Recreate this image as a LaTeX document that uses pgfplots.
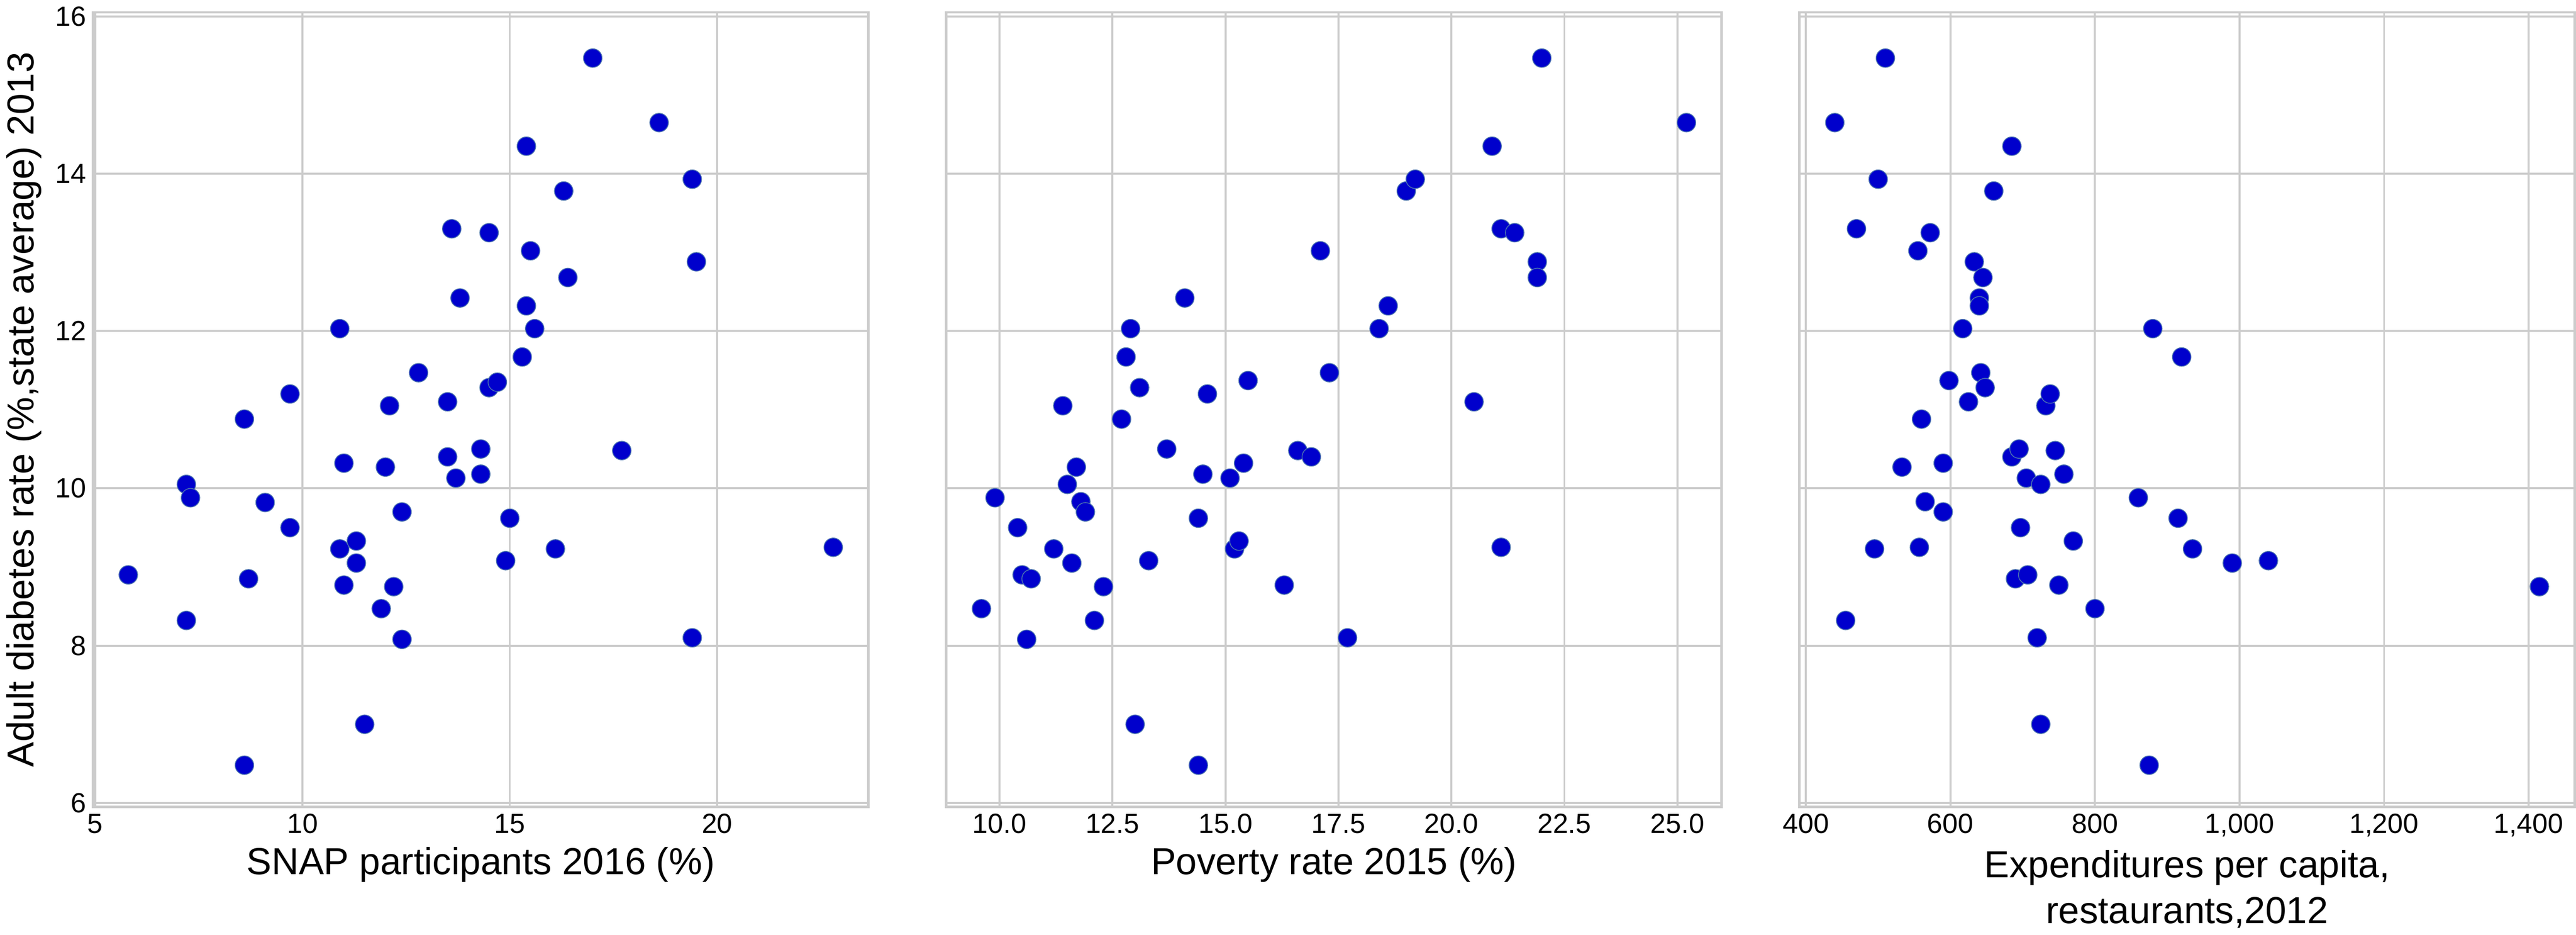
\documentclass[border=0pt]{standalone}
\usepackage{pgfplots}
\pgfplotsset{compat=1.18}
\usepgfplotslibrary{groupplots}
\usepackage{fontspec}
\setmainfont{Liberation Sans}
\definecolor{sb}{HTML}{4C72B0}
\definecolor{gr}{HTML}{CCCCCC}
\begin{document}
\begin{tikzpicture}
\begin{groupplot}[group style={group size=3 by 1, horizontal sep=1.38cm, y descriptions at=edge left},
 width=13.77cm, height=14.1cm, scale only axis,
 ymin=5.95, ymax=16.05, ytick={6,8,...,16},
 grid=major, grid style={gr, line width=1pt}, axis line style={gr, line width=1.2pt},
 major tick length=0pt,
 tick label style={font=\fontsize{14}{16}\selectfont},
 label style={font=\fontsize{19}{23}\selectfont},
 /pgf/number format/assume math mode=true,
 every axis plot/.append style={only marks, mark=*, mark size=4.7pt, mark options={draw=sb, fill=sb}}]
\nextgroupplot[xmin=4.95, xmax=23.65, xtick={5,10,15,20}, xlabel={SNAP participants 2016 (\%)}, ylabel={Adult diabetes rate (\%,state average) 2013}]
\addplot coordinates {(5.8,8.9)(7.2,10.05)(7.3,9.88)(7.2,8.32)(8.6,10.88)(8.7,8.85)(8.6,6.48)(9.1,9.82)(9.7,11.2)(9.7,9.5)(10.9,12.03)(11.0,10.32)(10.9,9.23)(11.0,8.77)(11.3,9.33)(11.3,9.05)(11.5,7.0)(11.9,8.47)(12.1,11.05)(12.0,10.27)(12.2,8.75)(12.4,9.7)(12.4,8.08)(12.8,11.47)(13.5,11.1)(13.5,10.4)(13.6,13.3)(13.8,12.42)(13.7,10.13)(14.3,10.5)(14.3,10.18)(14.5,13.25)(14.5,11.28)(14.7,11.35)(15.0,9.62)(14.9,9.08)(15.4,14.35)(15.4,12.32)(15.5,13.02)(15.3,11.67)(15.6,12.03)(16.1,9.23)(16.3,13.78)(16.4,12.68)(17.0,15.47)(17.7,10.48)(18.6,14.65)(19.4,13.93)(19.5,12.88)(19.4,8.1)(22.8,9.25)};
\nextgroupplot[xmin=8.82, xmax=25.98, xtick={10,12.5,...,25}, xticklabel style={/pgf/number format/.cd,fixed,fixed zerofill,precision=1}, xlabel={Poverty rate 2015 (\%)}]
\addplot coordinates {(9.6,8.47)(9.9,9.88)(10.4,9.5)(10.5,8.9)(10.7,8.85)(10.6,8.08)(11.2,9.23)(11.4,11.05)(11.5,10.05)(11.6,9.05)(11.7,10.27)(11.8,9.83)(11.9,9.7)(12.1,8.32)(12.3,8.75)(12.7,10.88)(12.8,11.67)(12.9,12.03)(13.1,11.28)(13.3,9.08)(13.0,7.0)(13.7,10.5)(14.1,12.42)(14.4,9.62)(14.5,10.18)(14.6,11.2)(14.4,6.48)(15.1,10.13)(15.2,9.23)(15.3,9.33)(15.4,10.32)(15.5,11.37)(16.3,8.77)(16.6,10.48)(16.9,10.4)(17.1,13.02)(17.3,11.47)(17.7,8.1)(18.4,12.03)(18.6,12.32)(19.0,13.78)(19.2,13.93)(20.5,11.1)(20.9,14.35)(21.1,13.3)(21.1,9.25)(21.4,13.25)(21.9,12.88)(21.9,12.68)(22.0,15.47)(25.2,14.65)};
\nextgroupplot[xmin=391, xmax=1464, xtick={400,600,...,1400}, xlabel={Expenditures per capita,\\restaurants,2012}, xlabel style={align=center}]
\addplot coordinates {(440,14.65)(455,8.32)(470,13.3)(495,9.23)(500,13.93)(510,15.47)(533,10.27)(555,13.02)(557,9.25)(560,10.88)(565,9.83)(572,13.25)(590,9.7)(590,10.32)(598,11.37)(617,12.03)(625,11.1)(633,12.88)(640,12.42)(640,12.32)(645,12.68)(642,11.47)(648,11.28)(660,13.78)(685,14.35)(685,10.4)(690,8.85)(695,10.5)(697,9.5)(705,10.13)(707,8.9)(720,8.1)(725,10.05)(725,7.0)(732,11.05)(738,11.2)(745,10.48)(750,8.77)(757,10.18)(770,9.33)(800,8.47)(860,9.88)(875,6.48)(880,12.03)(915,9.62)(920,11.67)(935,9.23)(990,9.05)(1040,9.08)(1415,8.75)};
\end{groupplot}
\end{tikzpicture}
\end{document}
